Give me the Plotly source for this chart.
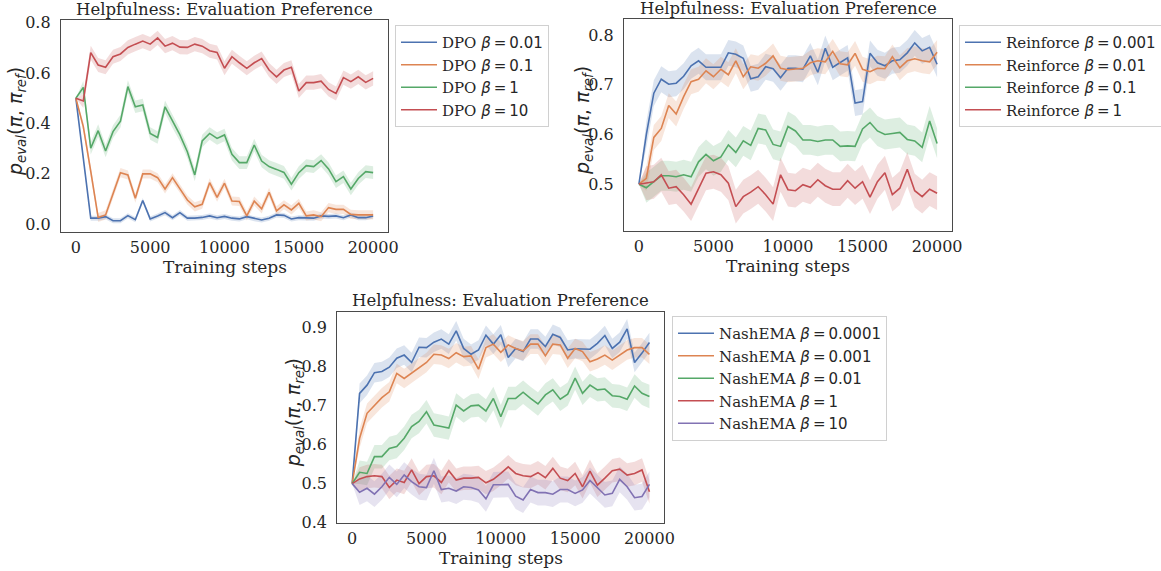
import plotly.graph_objects as go

steps = list(range(0, 20001, 500))
xtick_vals = [0, 5000, 10000, 15000, 20000]
xtick_text = ["0", "5000", "10000", "15000", "20000"]

# ---- Top-left: DPO ----
dpo_labels = ["0.01", "0.1", "1", "10"]
dpo_001 = [0.5, 0.26, 0.023, 0.023, 0.029, 0.013, 0.013, 0.033, 0.017, 0.093, 0.020,
           0.032, 0.045, 0.025, 0.045, 0.023, 0.023, 0.026, 0.032, 0.025, 0.030,
           0.023, 0.020, 0.029, 0.021, 0.016, 0.023, 0.036, 0.034, 0.020, 0.025,
           0.023, 0.023, 0.032, 0.030, 0.032, 0.025, 0.036, 0.025, 0.025, 0.032]
dpo_01 = [0.5, 0.387, 0.21, 0.026, 0.036, 0.122, 0.204, 0.195, 0.102, 0.199, 0.199,
          0.184, 0.139, 0.184, 0.142, 0.095, 0.068, 0.078, 0.164, 0.106, 0.162,
          0.091, 0.089, 0.032, 0.091, 0.060, 0.126, 0.052, 0.076, 0.056, 0.082,
          0.032, 0.036, 0.029, 0.065, 0.058, 0.058, 0.038, 0.036, 0.036, 0.036]
dpo_1 = [0.5, 0.543, 0.301, 0.371, 0.290, 0.367, 0.409, 0.546, 0.466, 0.473, 0.360,
         0.344, 0.466, 0.407, 0.354, 0.287, 0.195, 0.330, 0.360, 0.340, 0.354,
         0.277, 0.244, 0.244, 0.314, 0.250, 0.228, 0.217, 0.205, 0.158, 0.204,
         0.232, 0.228, 0.252, 0.219, 0.168, 0.188, 0.139, 0.181, 0.208, 0.204]
dpo_10 = [0.5, 0.489, 0.681, 0.632, 0.623, 0.665, 0.676, 0.702, 0.715, 0.727, 0.715,
          0.740, 0.707, 0.719, 0.703, 0.702, 0.715, 0.707, 0.689, 0.682, 0.619,
          0.665, 0.641, 0.619, 0.641, 0.658, 0.612, 0.585, 0.612, 0.623, 0.529,
          0.562, 0.562, 0.568, 0.535, 0.519, 0.582, 0.566, 0.585, 0.563, 0.579]
dpo_band = [0.010, 0.018, 0.025, 0.028]

# ---- Top-right: Reinforce ----
rf_labels = ["0.001", "0.01", "0.1", "1"]
rf_0001 = [0.5, 0.60, 0.683, 0.711, 0.701, 0.703, 0.717, 0.738, 0.748, 0.735, 0.735,
           0.735, 0.764, 0.761, 0.753, 0.712, 0.716, 0.736, 0.732, 0.714, 0.733,
           0.733, 0.731, 0.758, 0.725, 0.773, 0.735, 0.745, 0.754, 0.663, 0.666,
           0.763, 0.744, 0.738, 0.748, 0.750, 0.764, 0.784, 0.768, 0.775, 0.741]
rf_001 = [0.5, 0.512, 0.594, 0.612, 0.658, 0.641, 0.676, 0.706, 0.711, 0.728, 0.716,
          0.731, 0.720, 0.748, 0.716, 0.736, 0.733, 0.743, 0.758, 0.733, 0.730,
          0.731, 0.733, 0.744, 0.748, 0.746, 0.767, 0.742, 0.740, 0.763, 0.731,
          0.726, 0.733, 0.732, 0.756, 0.734, 0.748, 0.752, 0.748, 0.746, 0.765]
rf_01 = [0.5, 0.493, 0.505, 0.517, 0.517, 0.515, 0.519, 0.515, 0.545, 0.560, 0.547,
         0.555, 0.579, 0.564, 0.587, 0.578, 0.612, 0.609, 0.580, 0.576, 0.616,
         0.607, 0.589, 0.589, 0.586, 0.589, 0.589, 0.576, 0.577, 0.576, 0.611,
         0.624, 0.607, 0.600, 0.602, 0.604, 0.590, 0.587, 0.574, 0.627, 0.582]
rf_1 = [0.5, 0.502, 0.505, 0.519, 0.492, 0.495, 0.479, 0.460, 0.492, 0.522, 0.525,
        0.519, 0.502, 0.455, 0.475, 0.484, 0.495, 0.479, 0.460, 0.519, 0.489,
        0.487, 0.499, 0.494, 0.509, 0.497, 0.490, 0.490, 0.507, 0.492, 0.505,
        0.474, 0.505, 0.523, 0.479, 0.492, 0.530, 0.487, 0.475, 0.490, 0.482]
rf_band = [0.026, 0.025, 0.030, 0.034]

# ---- Bottom: NashEMA ----
ne_labels = ["0.0001", "0.001", "0.01", "1", "10"]
ne_00001 = [0.5, 0.731, 0.752, 0.784, 0.787, 0.798, 0.821, 0.829, 0.810, 0.849, 0.848,
            0.862, 0.870, 0.857, 0.891, 0.846, 0.831, 0.842, 0.880, 0.857, 0.881,
            0.823, 0.846, 0.838, 0.870, 0.870, 0.851, 0.882, 0.874, 0.842, 0.845,
            0.844, 0.844, 0.859, 0.879, 0.846, 0.862, 0.896, 0.810, 0.834, 0.861]
ne_0001 = [0.5, 0.616, 0.680, 0.701, 0.720, 0.735, 0.782, 0.769, 0.782, 0.797, 0.810,
           0.831, 0.829, 0.820, 0.835, 0.825, 0.827, 0.793, 0.848, 0.857, 0.836,
           0.855, 0.846, 0.840, 0.857, 0.857, 0.827, 0.857, 0.855, 0.821, 0.846,
           0.838, 0.812, 0.819, 0.829, 0.816, 0.829, 0.842, 0.848, 0.848, 0.831]
ne_001 = [0.5, 0.529, 0.526, 0.569, 0.569, 0.590, 0.595, 0.616, 0.646, 0.659, 0.684,
          0.650, 0.646, 0.642, 0.701, 0.686, 0.699, 0.701, 0.686, 0.718, 0.671,
          0.718, 0.718, 0.734, 0.718, 0.704, 0.727, 0.740, 0.716, 0.729, 0.770,
          0.731, 0.752, 0.740, 0.742, 0.725, 0.723, 0.716, 0.750, 0.731, 0.723]
ne_1 = [0.5, 0.512, 0.518, 0.520, 0.518, 0.490, 0.509, 0.503, 0.535, 0.500, 0.518,
        0.520, 0.503, 0.533, 0.509, 0.514, 0.514, 0.516, 0.502, 0.511, 0.526,
        0.543, 0.526, 0.520, 0.518, 0.528, 0.515, 0.539, 0.514, 0.508, 0.526,
        0.492, 0.532, 0.496, 0.514, 0.533, 0.537, 0.522, 0.526, 0.535, 0.479]
ne_10 = [0.5, 0.478, 0.488, 0.473, 0.492, 0.516, 0.498, 0.522, 0.505, 0.492, 0.490,
         0.533, 0.485, 0.488, 0.481, 0.492, 0.490, 0.484, 0.461, 0.497, 0.497,
         0.498, 0.468, 0.458, 0.485, 0.477, 0.477, 0.473, 0.485, 0.485, 0.475,
         0.484, 0.508, 0.490, 0.471, 0.475, 0.511, 0.492, 0.464, 0.467, 0.498]
ne_band = [0.025, 0.025, 0.030, 0.030, 0.033]

colors = ["#4C72B0", "#DD8452", "#55A868", "#C44E52", "#8172B3"]
fills = ["rgba(76,114,176,0.2)", "rgba(221,132,82,0.2)", "rgba(85,168,104,0.2)",
         "rgba(196,78,82,0.2)", "rgba(129,114,179,0.2)"]

SERIF = "DejaVu Serif"
SANS = "DejaVu Sans"
TXT = "#262626"
THIN = "\u2009"

fig = go.Figure()


def beta_label(name, val):
    return (f"{name} <span style='font-family:{SANS}'><i>β</i>{THIN}={THIN}{val}</span>")


def add_panel(series, labels, bands, name, ax, legend):
    xa = "x" if ax == 1 else f"x{ax}"
    ya = "y" if ax == 1 else f"y{ax}"
    for k, (vals, lab, hw) in enumerate(zip(series, labels, bands)):
        widths = [0.0] + [hw] * (len(vals) - 1)
        upper = [v + w for v, w in zip(vals, widths)]
        lower = [v - w for v, w in zip(vals, widths)]
        fig.add_trace(go.Scatter(
            x=steps + steps[::-1], y=upper + lower[::-1], fill="toself",
            fillcolor=fills[k], line=dict(width=0), mode="lines",
            hoverinfo="skip", showlegend=False, xaxis=xa, yaxis=ya))
    for k, (vals, lab) in enumerate(zip(series, labels)):
        fig.add_trace(go.Scatter(
            x=steps, y=vals, mode="lines", name=beta_label(name, lab),
            line=dict(color=colors[k], width=1.6), xaxis=xa, yaxis=ya,
            legend=legend))


add_panel([dpo_001, dpo_01, dpo_1, dpo_10], dpo_labels, dpo_band, "DPO", 1, "legend")
add_panel([rf_0001, rf_001, rf_01, rf_1], rf_labels, rf_band, "Reinforce", 2, "legend2")
add_panel([ne_00001, ne_0001, ne_001, ne_1, ne_10], ne_labels, ne_band, "NashEMA", 3, "legend3")

W, H = 1161, 571
boxes = {
    1: (61, 388, 20, 232),
    2: (624, 952, 19, 231),
    3: (337.3, 664.3, 311.7, 522.7),
}
yranges = {1: [-0.032, 0.811], 2: [0.406, 0.832], 3: [0.4, 0.94]}
yticks = {1: [0.0, 0.2, 0.4, 0.6, 0.8], 2: [0.5, 0.6, 0.7, 0.8],
          3: [0.4, 0.5, 0.6, 0.7, 0.8, 0.9]}

axis_common = dict(showline=True, mirror=True, linecolor="#4a4a4a", linewidth=1.3,
                   showgrid=False, zeroline=False, ticks="outside",
                   tickcolor="rgba(0,0,0,0)", automargin=False,
                   tickfont=dict(family=SERIF, size=16, color=TXT))

layout = {}
for ax, (x0, x1, y0, y1) in boxes.items():
    sx = "" if ax == 1 else str(ax)
    layout[f"xaxis{sx}"] = dict(axis_common, domain=[x0 / W, x1 / W], ticklen=1,
                                range=[-1000, 21000], tickvals=xtick_vals,
                                ticktext=xtick_text, anchor=f"y{sx}")
    layout[f"yaxis{sx}"] = dict(axis_common, domain=[1 - y1 / H, 1 - y0 / H], ticklen=6,
                                range=yranges[ax], tickvals=yticks[ax], tickformat=".1f",
                                anchor=f"x{sx}")

annotations = []
ylabel = "<i>p</i><sub><i>eval</i></sub>(<i>π</i>, <i>π</i><sub><i>ref</i></sub>)"
ylab_x = {1: 16, 2: 583, 3: 294}
for ax, (x0, x1, y0, y1) in boxes.items():
    cx = (x0 + x1) / 2
    annotations.append(dict(text="Helpfulness: Evaluation Preference", x=cx / W,
                            y=1 - (y0 - 11) / H, xref="paper", yref="paper",
                            xanchor="center", yanchor="middle", showarrow=False,
                            font=dict(family=SERIF, size=16.5, color=TXT)))
    annotations.append(dict(text="Training steps", x=cx / W, y=1 - (y1 + 35) / H,
                            xref="paper", yref="paper", xanchor="center",
                            yanchor="middle", showarrow=False,
                            font=dict(family=SERIF, size=17, color=TXT)))
    annotations.append(dict(text=ylabel, x=ylab_x[ax] / W, y=1 - ((y0 + y1) / 2 - 4) / H,
                            xref="paper", yref="paper", xanchor="center",
                            yanchor="middle", showarrow=False, textangle=-90,
                            font=dict(family=SANS, size=19, color=TXT)))

legend_common = dict(xanchor="left", yanchor="top", bgcolor="white",
                     bordercolor="#d0d0d0", borderwidth=1, itemwidth=36,
                     font=dict(family=SERIF, size=15, color=TXT))

fig.update_layout(
    width=W, height=H, margin=dict(l=0, r=0, t=0, b=0, autoexpand=False),
    paper_bgcolor="white", plot_bgcolor="white",
    annotations=annotations,
    legend=dict(legend_common, x=395 / W, y=1 - 25 / H),
    legend2=dict(legend_common, x=959 / W, y=1 - 25 / H),
    legend3=dict(legend_common, x=672 / W, y=1 - 316 / H),
    **layout,
)

fig.write_html("out.html", config={"displayModeBar": False},
               post_script="document.body.style.margin='0';"
                           "document.body.style.overflow='hidden';")
